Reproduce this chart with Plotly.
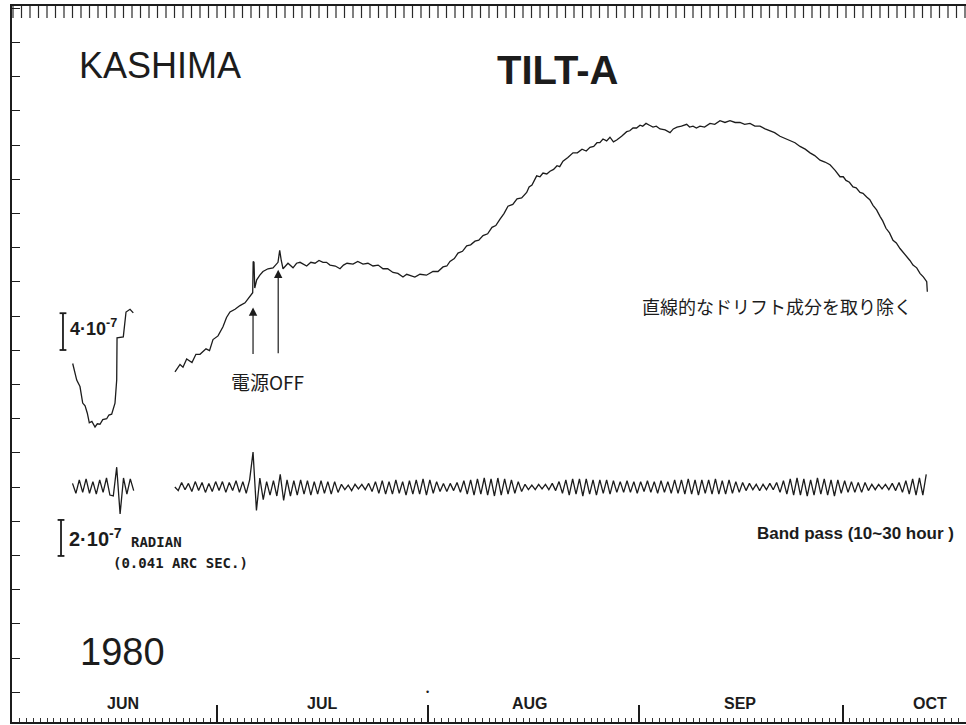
import plotly.graph_objects as go

# ---------------- data (days since 1980-06-01, tilt in 1e-7 rad) ----------------
MAIN1_DAY = [8.78, 9.37, 9.85, 10.25, 10.6, 10.93, 11.22, 11.6, 12.06, 12.4, 12.79, 13.2,
             13.78, 14.1, 14.51, 15.0, 15.25, 15.3, 16.22, 16.47, 16.62, 17.21, 17.69]
MAIN1_VAL = [6.9, 5.1, 4.4, 2.6, 2.3, 1.5, 0.45, 0.6, 0.0, 0.35, 0.3, 0.8,
             0.9, 1.3, 1.4, 2.6, 5.1, 9.7, 9.8, 12.0, 12.5, 12.8, 12.4]

MAIN2_DAY = [23.82, 24.56, 25.0, 25.54, 26.32, 26.9, 27.5, 28.38, 28.9, 29.41, 30.15, 30.88,
             31.4, 31.91, 32.65, 33.38, 34.12, 34.85, 35.25, 35.32, 35.44, 35.55, 35.84, 36.3,
             36.76, 37.5, 38.24, 38.97, 39.22, 39.45, 39.71, 40.44, 41.18, 41.7, 42.21, 43.19,
             43.8, 44.41, 45.0, 45.59, 46.1, 46.62, 47.4, 48.09, 48.6, 49.12, 50.0, 50.7,
             51.47, 52.2, 52.94, 53.7, 54.41, 55.1, 55.88, 56.6, 57.35, 57.9, 58.38, 59.1,
             59.85, 60.8, 61.76, 62.5, 63.24, 63.8, 64.26, 64.9, 65.44, 66.1, 66.72, 67.3,
             67.94, 68.5, 69.12, 69.8, 70.44, 71.0, 71.62, 72.2, 72.79, 73.5, 74.12, 74.8,
             75.54, 75.9, 76.32, 77.01, 77.5, 77.94, 78.5, 78.97, 79.5, 80.0, 80.4, 80.88,
             81.6, 82.35, 83.0, 83.68, 84.3, 84.85, 85.4, 85.88, 86.3, 86.76, 87.3, 87.79,
             88.3, 88.78, 89.5, 90.25, 90.7, 91.18, 91.7, 92.21, 92.6, 93.09, 93.6, 94.12,
             94.6, 95.15, 95.9, 96.62, 97.1, 97.65, 98.3, 99.07, 99.5, 100.0, 100.5, 101.03,
             101.7, 102.5, 103.2, 103.97, 104.7, 105.44, 106.2, 106.91, 107.6, 108.38, 109.1, 109.85,
             110.6, 111.32, 112.0, 112.79, 113.5, 114.26, 115.0, 115.74, 116.5, 117.21, 117.9, 118.68,
             119.4, 120.15, 120.9, 121.62, 122.1, 122.5, 123.0, 123.53, 124.0, 124.56, 125.0, 125.54,
             126.0, 126.47, 127.0, 127.5, 127.9, 128.38, 128.9, 129.41, 129.9, 130.44, 130.9, 131.43,
             131.9, 132.35, 132.9, 133.38, 133.9, 134.37, 134.46]
MAIN2_VAL = [6.0, 6.8, 6.5, 7.4, 7.0, 7.9, 7.9, 8.5, 8.3, 9.5, 9.9, 10.9,
             11.9, 12.5, 12.8, 13.2, 13.5, 14.2, 14.6, 18.0, 17.9, 15.1, 16.0, 16.5,
             16.9, 17.2, 17.3, 17.9, 19.2, 18.1, 17.2, 17.8, 17.3, 17.8, 17.9, 17.5,
             17.9, 17.8, 18.1, 17.9, 17.9, 17.6, 17.5, 17.2, 17.6, 17.8, 17.7, 18.0,
             17.7, 17.8, 17.5, 17.6, 17.2, 17.2, 16.8, 16.7, 16.3, 16.6, 16.5, 16.3,
             16.6, 16.5, 16.9, 16.9, 17.4, 17.5, 18.0, 18.3, 18.9, 19.1, 19.7, 19.8,
             20.2, 20.3, 20.8, 21.0, 21.7, 21.9, 22.6, 23.2, 24.0, 24.2, 24.8, 24.9,
             25.5, 26.1, 26.3, 27.3, 27.2, 27.6, 27.5, 27.8, 28.0, 28.4, 28.3, 28.9,
             29.3, 29.8, 29.8, 30.2, 30.0, 30.4, 30.5, 30.9, 30.9, 31.3, 31.1, 31.5,
             31.0, 31.2, 31.6, 32.1, 32.2, 32.5, 32.5, 32.8, 32.7, 33.0, 32.8, 32.6,
             32.7, 32.4, 32.3, 32.0, 32.4, 32.6, 32.7, 32.9, 32.6, 32.7, 32.5, 32.7,
             32.6, 33.0, 32.9, 33.3, 33.1, 33.3, 33.1, 33.1, 32.9, 33.0, 32.7, 32.7,
             32.4, 32.2, 32.0, 31.6, 31.4, 31.1, 30.9, 30.5, 30.2, 29.8, 29.5, 29.0,
             28.8, 28.5, 27.9, 27.2, 27.2, 26.8, 26.6, 26.1, 26.0, 25.5, 25.4, 25.0,
             24.7, 24.1, 23.6, 22.9, 22.4, 21.6, 21.1, 20.3, 20.0, 19.4, 19.0, 18.5,
             18.1, 17.6, 17.3, 16.7, 16.3, 15.8, 14.7]

# band-pass (10~30 hour) record, sampled every half day
BAND_STEP = 0.5
BAND1_START = 8.75
BAND1_VAL = [0.2, -0.35, 0.4, -0.3, 0.45, -0.35, 0.3, -0.4, 0.4, -0.3, 0.5, -0.45,
             -0.5, 1.1, -1.5, 0.5, -0.4, 0.45, -0.2]
BAND2_START = 23.8
BAND2_VAL = [
    0.0, -0.2, 0.25, -0.15, 0.2, -0.25, 0.3, -0.2, 0.25, -0.3, 0.2, -0.25, 0.3, -0.2, 0.3, -0.3,
    0.25, -0.2, 0.35, -0.3, 0.3, -0.35, 0.4, 1.94, -1.3, 0.5, -0.7,
    0.3, -0.45, 0.35, -0.5, 0.7, -0.75, 0.4, -0.5, 0.35, -0.45,
    0.4, -0.4, 0.35, -0.45, 0.3, -0.4, 0.35, -0.35, 0.3, -0.4, 0.3, -0.3,
    0.15, -0.15, 0.1, -0.2, 0.15, -0.1, 0.15, -0.15, 0.2,
    -0.25, 0.3, -0.35, 0.35, -0.4, 0.3, -0.4, 0.4, -0.35, 0.3, -0.45, 0.35, -0.4, 0.4, -0.4,
    0.45, -0.45, 0.4, -0.35, 0.3, -0.25, 0.2, -0.25, 0.2, -0.2, 0.25, -0.3,
    0.35, -0.4, 0.4, -0.45, 0.45, -0.4, 0.5, -0.45, 0.45, -0.5, 0.5, -0.45, 0.45, -0.4, 0.4, -0.35, 0.3, -0.25,
    0.15, -0.15, 0.1, -0.15, 0.15, -0.1, 0.15, -0.15, 0.2, -0.2,
    0.3, -0.35, 0.4, -0.45, 0.45, -0.4, 0.45, -0.5, 0.45, -0.4, 0.4, -0.45, 0.4, -0.35, 0.4, -0.4, 0.35, -0.3,
    0.3, -0.3, 0.35, -0.3, 0.3, -0.35, 0.3, -0.25, 0.35, -0.3, 0.3, -0.35, 0.35, -0.3, 0.3, -0.35, 0.4, -0.35,
    0.4, -0.4, 0.45, -0.4, 0.4, -0.45, 0.4, -0.35, 0.4, -0.4, 0.45, -0.4, 0.35, -0.4, 0.4, -0.35, 0.3, -0.3, 0.25, -0.2,
    0.2, -0.15, 0.15, -0.2, 0.15, -0.15, 0.2, -0.15, 0.25, -0.3,
    0.35, -0.4, 0.45, -0.45, 0.5, -0.45, 0.45, -0.5, 0.4, -0.45, 0.5, -0.4, 0.45, -0.45, 0.4, -0.5, 0.4, -0.35,
    0.35, -0.3, 0.3, -0.3, 0.25, -0.3, 0.25, -0.2,
    0.15, -0.15, 0.15, -0.1, 0.15, -0.15, 0.2, -0.2, 0.25,
    -0.3, 0.35, -0.4, 0.45, -0.45, 0.5, -0.45, 0.7]

MONTH_LABELS = ["JUN", "JUL", "AUG", "SEP", "OCT"]
MONTH_CENTERS = [16.2, 45.4, 76.0, 106.9, 134.9]
MONTH_BOUNDS = [30, 61, 92, 122]

ARROW_DAYS = [35.3, 39.0]
ARROW_TIPS = [13.0, 17.1]

SCALE_MAIN = 4.0   # 4·10^-7 rad
SCALE_BAND = 2.0   # 2·10^-7 rad

TOP_TICK_STEP = 1.25   # spacing of the recorder's top ruling, days

# ---------------- figure ----------------
INK = "#1c1c1c"
W, H = 966, 725
ML, MR, MT, MB = 12, 0, 6, 3
PLOT_H = H - MT - MB


def P(px, py):
    """pixel position -> paper coordinates (for text placement)"""
    return (px - ML) / (W - ML - MR), (H - MB - py) / PLOT_H


band1_x = [BAND1_START + BAND_STEP * i for i in range(len(BAND1_VAL))]
band2_x = [BAND2_START + BAND_STEP * i for i in range(len(BAND2_VAL))]

# y ranges chosen so that the band-pass zero sits on a tick line
BAND_PX_PER_UNIT = 18.0
MAIN_PX_PER_UNIT = 9.2
band_zero_px, main_zero_px = 487 - MT, 427 - MT
y_band = [-(PLOT_H - band_zero_px) / BAND_PX_PER_UNIT, band_zero_px / BAND_PX_PER_UNIT]
y_main = [-(PLOT_H - main_zero_px) / MAIN_PX_PER_UNIT, main_zero_px / MAIN_PX_PER_UNIT]
XR = [-0.147, 140.147]

fig = go.Figure()
line_main = dict(color=INK, width=1.3)
line_band = dict(color=INK, width=1.3)
fig.add_trace(go.Scatter(x=MAIN1_DAY, y=MAIN1_VAL, mode="lines", line=line_main, yaxis="y2"))
fig.add_trace(go.Scatter(x=MAIN2_DAY, y=MAIN2_VAL, mode="lines", line=line_main, yaxis="y2"))
fig.add_trace(go.Scatter(x=band1_x, y=BAND1_VAL, mode="lines", line=line_band))
fig.add_trace(go.Scatter(x=band2_x, y=BAND2_VAL, mode="lines", line=line_band))

# top ruling of the chart paper (short ticks hanging from the top edge)
n_top = int((XR[1] - 0) / TOP_TICK_STEP) + 1
top_x = [TOP_TICK_STEP * i for i in range(n_top)]
top_y = [y_band[1] - 5.0 / BAND_PX_PER_UNIT] * n_top
fig.add_trace(go.Scatter(x=top_x, y=top_y, mode="markers", hoverinfo="skip",
                         marker=dict(symbol="line-ns", size=10, color="#2a2a2a",
                                     line=dict(width=1.2, color="#2a2a2a"))))

fig.update_layout(
    width=W, height=H,
    margin=dict(l=ML, r=MR, t=MT, b=MB, pad=0),
    plot_bgcolor="white", paper_bgcolor="white",
    showlegend=False,
    xaxis=dict(range=XR, tickmode="array", tickvals=MONTH_BOUNDS, ticktext=[""] * 4,
               ticks="inside", ticklen=17, tickwidth=1.6, tickcolor=INK,
               showline=True, linecolor=INK, linewidth=1.6, mirror=True,
               showgrid=False, zeroline=False,
               minor=dict(dtick=1, tick0=0, ticks="inside", ticklen=4, tickwidth=1,
                          tickcolor="#333", showgrid=False)),
    yaxis=dict(range=y_band, tickmode="linear", tick0=0, dtick=1.9,
               ticks="inside", ticklen=8, tickwidth=1.3, tickcolor=INK,
               showline=True, linecolor=INK, linewidth=1.6, showticklabels=False,
               showgrid=False, zeroline=False),
    yaxis2=dict(range=y_main, overlaying="y", visible=False),
)

# scale bars
def ibar(xday, y0, length, yref, half=0.5):
    fig.add_shape(type="line", x0=xday, x1=xday, y0=y0, y1=y0 + length, xref="x", yref=yref,
                  line=dict(color=INK, width=1.8))
    for yy in (y0, y0 + length):
        fig.add_shape(type="line", x0=xday - half, x1=xday + half, y0=yy, y1=yy,
                      xref="x", yref=yref, line=dict(color=INK, width=1.8))

ibar(7.35, 8.37, SCALE_MAIN, "y2")
ibar(7.06, -3.83, SCALE_BAND, "y")

ann = []
def text(t, px, py, size, family="Liberation Sans", xanchor="center", weight="normal", color=INK):
    x, y = P(px, py)
    ann.append(dict(text=t, x=x, y=y, xref="paper", yref="paper", xanchor=xanchor,
                    yanchor="middle", showarrow=False,
                    font=dict(size=size, family=family, color=color, weight=weight)))

text("KASHIMA", 160, 66, 36)
text("TILT-A", 557, 70, 40, weight="bold")
text("1980", 122, 652, 38)
text("4·10<sup>-7</sup>", 68, 327, 18, xanchor="left", weight="bold")
text("2·10<sup>-7</sup>", 67, 537, 20, xanchor="left", weight="bold")
text("RADIAN", 129, 542, 14, family="DejaVu Sans Mono", xanchor="left", weight="bold")
text("(0.041 ARC SEC.)", 111, 563, 14, family="DejaVu Sans Mono", xanchor="left", weight="bold")
text("電源OFF", 267, 381, 19, family="Noto Sans CJK JP")
text("直線的なドリフト成分を取り除く", 777, 306, 18, family="Noto Sans CJK JP")
text("Band pass (10~30 hour )", 956, 533, 17, family="Liberation Sans Narrow, Liberation Sans",
     xanchor="right", weight="bold")
text("•", 427, 692, 9)

for lab, c in zip(MONTH_LABELS, MONTH_CENTERS):
    ann.append(dict(text=lab, x=c, y=0, xref="x", yref="paper", xanchor="center",
                    yanchor="bottom", yshift=8, showarrow=False,
                    font=dict(size=16, family="Liberation Sans Narrow, Liberation Sans",
                              color=INK, weight="bold")))

for d, tip, ay in zip(ARROW_DAYS, ARROW_TIPS, [48, 85]):
    ann.append(dict(text="", x=d, y=tip, xref="x", yref="y2", ax=0, ay=ay,
                    showarrow=True, arrowhead=2, arrowsize=1.4, arrowwidth=1.2,
                    arrowcolor=INK))

fig.update_layout(annotations=ann)
fig.write_html("out.html")
